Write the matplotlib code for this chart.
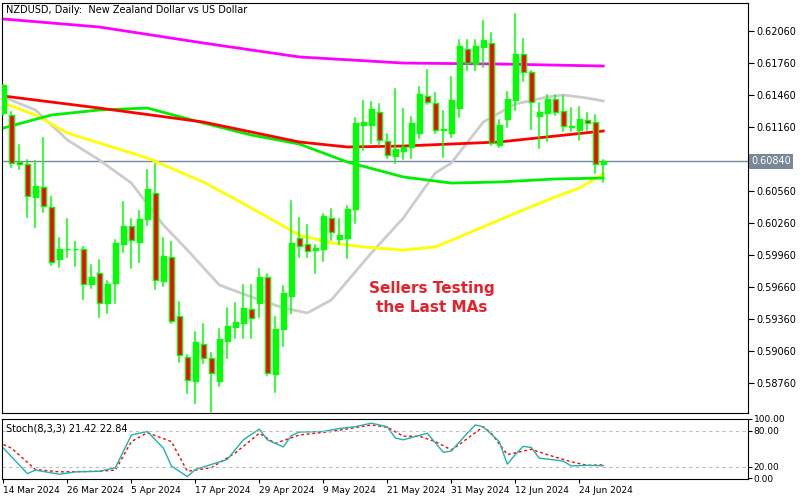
import numpy as np
import matplotlib
matplotlib.use("Agg")
import matplotlib.pyplot as plt
from matplotlib.patches import Rectangle

dates = ["14 Mar 2024", "26 Mar 2024", "5 Apr 2024", "17 Apr 2024", "29 Apr 2024",
         "9 May 2024", "21 May 2024", "31 May 2024", "12 Jun 2024", "24 Jun 2024"]

opens = [0.61292,0.61273,0.60832,0.60813,0.60504,0.60598,0.60411,0.59923,0.60012,0.60012,
         0.60017,0.59689,0.59792,0.59510,0.59698,0.60064,0.60232,0.60082,0.60298,0.60542,
         0.59717,0.59942,0.59389,0.59004,0.58779,0.59126,0.58995,0.58779,0.59154,0.59285,
         0.59323,0.59454,0.59510,0.59754,0.58845,0.59267,0.59576,0.60120,0.60064,0.60007,
         0.60017,0.60307,0.60110,0.60120,0.60392,0.61179,0.61179,0.61301,0.61029,0.60889,
         0.60935,0.60973,0.61104,0.61451,0.61385,0.61128,0.61104,0.61339,0.61892,0.61751,
         0.61910,0.61948,0.60992,0.61235,0.61414,0.61845,0.61676,0.61264,0.61292,0.61423,
         0.61310,0.61165,0.61132,0.61226,0.61207,0.60813]
highs = [0.61554,0.61301,0.60992,0.60851,0.60841,0.61057,0.60504,0.60120,0.60298,0.60082,
         0.60035,0.59867,0.59914,0.59717,0.60101,0.60457,0.60298,0.60373,0.60757,0.60813,
         0.60120,0.60082,0.59520,0.59023,0.59239,0.59314,0.59042,0.59267,0.59464,0.59510,
         0.59679,0.59679,0.59829,0.59782,0.59379,0.59670,0.60467,0.60307,0.60242,0.60054,
         0.60345,0.60392,0.60298,0.60420,0.61245,0.61404,0.61395,0.61376,0.61095,0.61517,
         0.61329,0.61254,0.61535,0.61695,0.61479,0.61310,0.61629,0.61976,0.61976,0.61976,
         0.62154,0.62042,0.61226,0.61489,0.62220,0.61985,0.61685,0.61385,0.61460,0.61460,
         0.61451,0.61339,0.61348,0.61292,0.61273,0.60851]
lows = [0.61273,0.60785,0.60767,0.60317,0.60223,0.60364,0.59867,0.59848,0.59942,0.59857,
        0.59548,0.59651,0.59379,0.59417,0.59510,0.59989,0.59839,0.59895,0.60242,0.59642,
        0.59670,0.59323,0.58957,0.58667,0.58573,0.58948,0.58489,0.58732,0.58995,0.59182,
        0.59182,0.59182,0.59379,0.58835,0.58676,0.59107,0.59417,0.59942,0.59942,0.59792,
        0.59904,0.60101,0.60064,0.59932,0.60260,0.60945,0.61010,0.60992,0.60870,0.60823,
        0.60860,0.60870,0.61057,0.61376,0.61104,0.60879,0.61067,0.61254,0.61695,0.61695,
        0.61723,0.60992,0.60973,0.61160,0.61320,0.61592,0.61142,0.60964,0.61029,0.61273,
        0.61123,0.61123,0.61039,0.61132,0.60729,0.60645]
closes = [0.61554,0.60823,0.60813,0.60514,0.60607,0.60420,0.59895,0.60017,0.60021,0.60021,
          0.59689,0.59754,0.59510,0.59689,0.60073,0.60232,0.60101,0.60298,0.60579,0.59726,
          0.59951,0.59342,0.59023,0.58789,0.59145,0.58995,0.58854,0.59173,0.59295,0.59332,
          0.59464,0.59370,0.59754,0.58854,0.59267,0.59604,0.60073,0.60045,0.59998,0.60026,
          0.60326,0.60176,0.60148,0.60392,0.61198,0.61207,0.61329,0.61039,0.60898,0.60954,
          0.60973,0.61198,0.61470,0.61395,0.61132,0.61137,0.61414,0.61920,0.61760,0.61920,
          0.61976,0.61010,0.61179,0.61423,0.61845,0.61676,0.61395,0.61301,0.61423,0.61301,
          0.61170,0.61174,0.61235,0.61198,0.60813,0.60840]
last_price = 0.60840

ma_magenta_x = [0, 12, 25, 37, 50, 62, 75]
ma_magenta = [0.62173, 0.62098, 0.61948, 0.61817, 0.61760, 0.61751, 0.61732]
ma_red_x = [0, 12, 25, 37, 43, 50, 62, 75]
ma_red = [0.61451, 0.61338, 0.61207, 0.61020, 0.60973, 0.60982, 0.61020, 0.61123]
ma_green_x = [0, 6, 12, 18, 25, 31, 37, 43, 50, 56, 62, 69, 75]
ma_green = [0.61151, 0.61273, 0.61320, 0.61338, 0.61198, 0.61085, 0.61001, 0.60832,
            0.60692, 0.60635, 0.60645, 0.60673, 0.60682]
ma_yellow_x = [0, 4, 8, 12, 18, 25, 31, 37, 41, 45, 50, 54, 57, 62, 68, 72, 75]
ma_yellow = [0.61385, 0.61273, 0.61104, 0.61010, 0.60870, 0.60645, 0.60401, 0.60148, 0.60073,
             0.60036, 0.60007, 0.60036, 0.60129, 0.60289, 0.60476, 0.60588, 0.60720]
ma_grey_x = [0, 4, 8, 12, 16, 20, 23, 27, 31, 35, 38, 41, 46, 50, 54, 56, 60, 64, 68, 70, 73, 75]
ma_grey = [0.61442, 0.61320, 0.61039, 0.60851, 0.60635, 0.60242, 0.60007, 0.59679, 0.59567,
           0.59464, 0.59417, 0.59539, 0.59979, 0.60307, 0.60729, 0.60823, 0.61207, 0.61376,
           0.61442, 0.61460, 0.61432, 0.61404]

stk_x = [0, 3, 4, 7, 9, 12, 14, 16, 18, 20, 21, 23, 24, 28, 30, 32, 33, 35, 36, 37, 40, 42, 44,
         46, 48, 49, 50, 53, 55, 56, 58, 59, 60, 62, 63, 64, 65, 66, 67, 69, 70, 71, 73, 75]
stk_k = [51, 8, 14, 7, 11, 12, 18, 73, 79, 51, 21, 3, 15, 32, 65, 83, 65, 53, 72, 78, 79, 84, 87,
         93, 87, 68, 65, 76, 44, 46, 76, 90, 87, 62, 24, 40, 54, 52, 34, 31, 29, 21, 22, 21.4]
std_x = [0, 1, 4, 7, 12, 14, 16, 18, 21, 23, 26, 29, 32, 34, 37, 41, 46, 48, 50, 52, 54, 56, 57,
         60, 61, 63, 66, 68, 71, 73, 75]
std_d = [57, 51, 15, 11, 12, 14, 62, 77, 62, 12, 18, 43, 76, 59, 73, 79, 90, 86, 71, 71, 62, 48, 57,
         87, 76, 40, 49, 40, 28, 22, 22.8]

ytick_vals = [0.62060, 0.61760, 0.61460, 0.61160, 0.60560, 0.60260, 0.59960, 0.59660,
              0.59360, 0.59060, 0.58760]

LIME = "#00ff00"
fig = plt.figure(figsize=(8, 5), dpi=100)
ax = fig.add_axes([0.003, 0.174, 0.932, 0.82])
ax2 = fig.add_axes([0.003, 0.042, 0.932, 0.12])

n = len(opens)
w = 0.6
for i in range(n):
    o, h, l, c = opens[i], highs[i], lows[i], closes[i]
    ax.plot([i, i], [l, h], color=LIME, lw=1.1, zorder=3)
    bot, top = min(o, c), max(o, c)
    hgt = max(top - bot, 0.00003)
    face = LIME if c >= o else "#ff0000"
    ax.add_patch(Rectangle((i - w / 2, bot), w, hgt, facecolor=face, edgecolor=LIME,
                           lw=1.0, zorder=4))

kw = dict(lw=2, zorder=2, solid_joinstyle="round")
ax.plot(ma_magenta_x, ma_magenta, color="#ff00ff", **kw)
ax.plot(ma_grey_x, ma_grey, color="#cccccc", **kw)
ax.plot(ma_yellow_x, ma_yellow, color="#ffff00", **kw)
ax.plot(ma_green_x, ma_green, color="#00ee00", **kw)
ax.plot(ma_red_x, ma_red, color="#ff0000", **kw)
ax.axhline(last_price, color="#778899", lw=1, zorder=1)

ax.set_xlim(-0.125, 93.1)
ax.set_ylim(0.58479, 0.62323)
ax.yaxis.tick_right()
ax.set_yticks(ytick_vals)
ax.set_yticklabels([f"{v:.5f}" for v in ytick_vals])
ax.tick_params(axis="y", labelsize=7, length=4, direction="out", pad=2)
ax.set_xticks([])
ax.text(1.004, last_price, f"{last_price:.5f}", transform=ax.get_yaxis_transform(),
        fontsize=7, color="white", va="center", ha="left",
        bbox=dict(boxstyle="square,pad=0.25", fc="#778899", ec="none"))
ax.text(0.005, 0.995, "NZDUSD, Daily:  New Zealand Dollar vs US Dollar", transform=ax.transAxes,
        fontsize=7, va="top", ha="left")
ax.text(53.6, 0.59557, "Sellers Testing\nthe Last MAs", color="#e8202a", fontsize=11,
        fontweight="bold", ha="center", va="center", linespacing=1.3)

ax2.plot(std_x, std_d, color="#ff0000", lw=1, ls=(0, (2, 2)))
ax2.plot(stk_x, stk_k, color="#20b2aa", lw=1)
ax2.axhline(80, color="#bbbbbb", lw=0.8, ls=(0, (3, 3)))
ax2.axhline(20, color="#bbbbbb", lw=0.8, ls=(0, (3, 3)))
ax2.set_xlim(-0.125, 93.1)
ax2.set_ylim(-1, 100)
ax2.yaxis.tick_right()
ax2.set_yticks([100, 80, 20, 0])
ax2.set_yticklabels(["100.00", "80.00", "20.00", "0.00"])
ax2.tick_params(axis="y", labelsize=6.5, length=3, pad=1)
ax2.set_xticks(list(range(0, 80, 8)))
ax2.set_xticklabels(dates, ha="left")
ax2.tick_params(axis="x", labelsize=6.5, length=3, pad=2)
ax2.text(0.005, 0.92, "Stoch(8,3,3) 21.42 22.84", transform=ax2.transAxes, fontsize=7,
         va="top", ha="left")

fig.savefig("out.png", dpi=100)
